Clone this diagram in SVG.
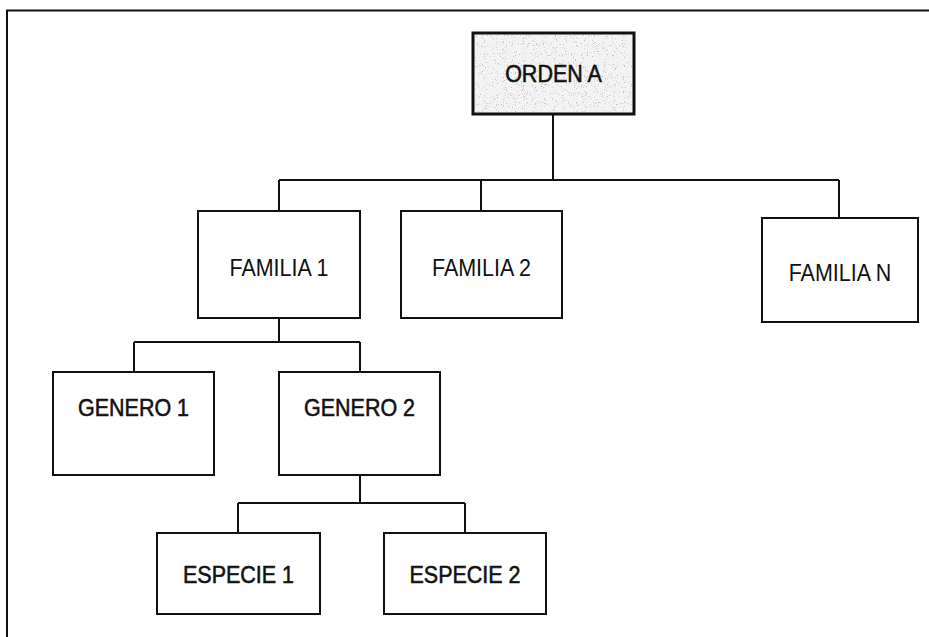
<svg xmlns="http://www.w3.org/2000/svg" width="929" height="637" viewBox="0 0 929 637">
  <style>
    .box { fill: #ffffff; stroke: #111111; stroke-width: 2; }
    .root { fill: #f3f3f3; stroke: #111111; stroke-width: 3; }
    .lbl { font-family: "Liberation Sans", Arial, sans-serif; font-size: 21.5px; fill: #111111; text-anchor: middle; }
    .heavy { stroke: #111111; stroke-width: 0.5; }
    .wire { fill: none; stroke: #111111; stroke-width: 2; }
    .frame { fill: none; stroke: #111111; stroke-width: 2; }
  </style>
  <defs>
    <!-- speckled stipple used inside the top box -->
    <filter id="grain" x="0" y="0" width="100%" height="100%">
      <feTurbulence type="fractalNoise" baseFrequency="0.9" numOctaves="2" seed="7" result="n"/>
      <feColorMatrix in="n" type="matrix" values="0 0 0 0 0.5  0 0 0 0 0.5  0 0 0 0 0.5  8 0 0 0 -5.0" result="dots"/>
      <feComposite in="dots" in2="SourceGraphic" operator="in"/>
    </filter>
  </defs>

  <rect width="929" height="637" fill="#ffffff"/>
  <path class="frame" d="M7,637 V10.5 H929"/>

  <g id="connectors">
    <path class="wire" d="M553,114 V180 M279,180 H839 M279,180 V211 M481,180 V211 M839,180 V218"/>
    <path class="wire" d="M279,318 V342 M134,342 H360 M134,342 V372 M360,342 V372"/>
    <path class="wire" d="M360,475 V503 M238,503 H465 M238,503 V533 M465,503 V533"/>
  </g>

  <g id="orden-a">
    <rect class="root" x="473" y="33" width="161" height="81"/>
    <rect x="475" y="35" width="157" height="77" fill="#ffffff" filter="url(#grain)"/>
    <text class="lbl heavy" transform="translate(553.5,82) scale(1,1.15)">ORDEN A</text>
  </g>

  <g id="familia-1">
    <rect class="box" x="198" y="211" width="162" height="107"/>
    <text class="lbl" transform="translate(279,276) scale(1,1.15)">FAMILIA 1</text>
  </g>
  <g id="familia-2">
    <rect class="box" x="401" y="211" width="161" height="107"/>
    <text class="lbl" transform="translate(481.5,276) scale(1,1.15)">FAMILIA 2</text>
  </g>
  <g id="familia-n">
    <rect class="box" x="762" y="218" width="156" height="104"/>
    <text class="lbl" transform="translate(840,281) scale(1,1.15)">FAMILIA N</text>
  </g>

  <g id="genero-1">
    <rect class="box" x="53" y="372" width="161" height="103"/>
    <text class="lbl heavy" transform="translate(133.5,416) scale(1,1.15)">GENERO 1</text>
  </g>
  <g id="genero-2">
    <rect class="box" x="279" y="372" width="161" height="103"/>
    <text class="lbl heavy" transform="translate(359.5,416) scale(1,1.15)">GENERO 2</text>
  </g>

  <g id="especie-1">
    <rect class="box" x="157" y="533" width="163" height="81"/>
    <text class="lbl heavy" transform="translate(238.5,583) scale(1,1.15)">ESPECIE 1</text>
  </g>
  <g id="especie-2">
    <rect class="box" x="384" y="533" width="162" height="81"/>
    <text class="lbl heavy" transform="translate(465,583) scale(1,1.15)">ESPECIE 2</text>
  </g>
</svg>
